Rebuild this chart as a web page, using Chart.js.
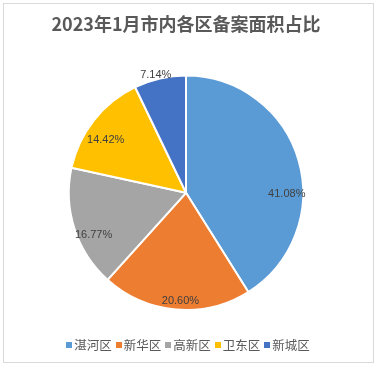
<!DOCTYPE html>
<html>
<head>
<meta charset="utf-8">
<script src="https://cdn.jsdelivr.net/npm/chart.js@4/dist/chart.umd.min.js"></script>
<style>
  html, body { margin: 0; padding: 0; background: #fff; }
  #wrap { position: relative; width: 378px; height: 368px; }
  #frame { position: absolute; left: 3px; top: 3px; width: 369px; height: 358px; border: 1px solid #d9d9d9; box-sizing: content-box; pointer-events: none; }
  #legend { position: absolute; left: 2px; width: 372px; top: 335px; text-align: center; font: 12.5px "Noto Sans CJK SC", sans-serif; color: #595959; white-space: nowrap; }
  #legend span.item { display: inline-block; margin: 0 2px; }
  #legend i { display: inline-block; width: 6px; height: 6px; margin-right: 2px; vertical-align: 2px; }
</style>
</head>
<body>
<div id="wrap">
  <canvas id="chart" width="378" height="368"></canvas>
  <div id="frame"></div>
  <div id="legend"></div>
</div>
<script>
var districts = ['湛河区', '新华区', '高新区', '卫东区', '新城区'];
var shares = [41.08, 20.60, 16.77, 14.42, 7.14];
var colors = ['#5B9BD5', '#ED7D31', '#A5A5A5', '#FFC000', '#4472C4'];

// where excel put each label (angle shift in degrees, fraction of radius)
var labelShift = [17, -2, -6.5, -5, -1.5];
var labelRadius = [0.86, 0.92, 0.865, 0.82, 1.04];

var pieLabels = {
  id: 'pieLabels',
  afterDatasetsDraw: function(chart) {
    var ctx = chart.ctx;
    var meta = chart.getDatasetMeta(0);
    ctx.save();
    ctx.font = '11px "Liberation Sans", sans-serif';
    ctx.fillStyle = '#404040';
    ctx.textAlign = 'center';
    ctx.textBaseline = 'middle';
    meta.data.forEach(function(arc, i) {
      var mid = (arc.startAngle + arc.endAngle) / 2 + labelShift[i] * Math.PI / 180;
      var r = arc.outerRadius * labelRadius[i];
      ctx.fillText(shares[i].toFixed(2) + '%', arc.x + Math.cos(mid) * r, arc.y + Math.sin(mid) * r);
    });
    ctx.restore();
  }
};

new Chart('chart', {
  type: 'pie',
  data: {
    labels: districts,
    datasets: [{
      data: shares,
      backgroundColor: colors,
      borderColor: '#fff',
      borderWidth: 2
    }]
  },
  options: {
    responsive: false,
    animation: false,
    layout: { padding: { left: 0, right: 6, bottom: 57 } },
    plugins: {
      legend: { display: false },
      tooltip: { enabled: false },
      title: {
        display: true,
        text: '2023年1月市内各区备案面积占比',
        color: '#595959',
        font: { family: '"Noto Sans CJK SC", sans-serif', size: 18, weight: 'bold' },
        padding: { top: 13, bottom: 40 }
      }
    }
  },
  plugins: [pieLabels]
});

var legend = document.getElementById('legend');
districts.forEach(function(name, i) {
  var item = document.createElement('span');
  item.className = 'item';
  var box = document.createElement('i');
  box.style.background = colors[i];
  item.appendChild(box);
  item.appendChild(document.createTextNode(name));
  legend.appendChild(item);
});
</script>
</body>
</html>
